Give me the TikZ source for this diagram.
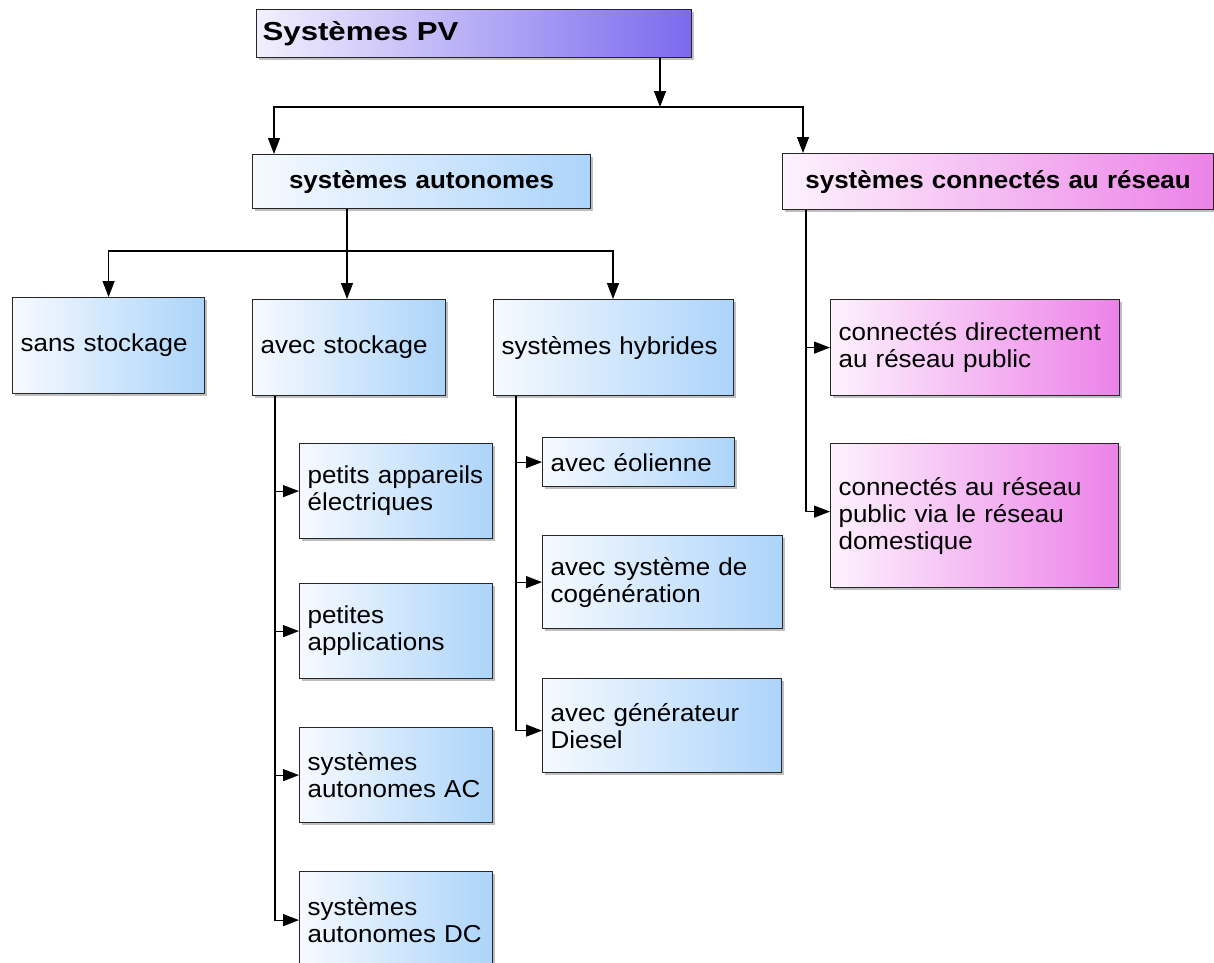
\documentclass[tikz,border=0pt]{standalone}
\usepackage{fontspec}
\setmainfont[FakeStretch=1.06]{Liberation Sans}
\newfontfamily\titlefont[FakeStretch=1.2]{Liberation Sans}
\usetikzlibrary{arrows.meta,shadows}
\definecolor{boxblue}{RGB}{172,212,250}
\definecolor{boxblueL}{RGB}{246,250,255}
\definecolor{boxpink}{RGB}{236,130,232}
\definecolor{boxpinkL}{RGB}{253,242,253}
\definecolor{titleblue}{RGB}{124,106,238}
\definecolor{titleblueL}{RGB}{242,240,253}
\tikzstyle{box} = [rectangle, draw=black!85, line width=1.2pt, anchor=north west, align=left, inner xsep=8pt, inner ysep=0pt, font=\fontsize{24.5}{27}\selectfont, drop shadow={shadow xshift=2pt, shadow yshift=-2pt, fill=black, opacity=0.25}]
\tikzstyle{bluebox} = [box, left color=boxblueL, right color=boxblue]
\tikzstyle{pinkbox} = [box, left color=boxpinkL, right color=boxpink]
\tikzstyle{head} = [align=center, font=\fontsize{24.5}{27}\selectfont\bfseries]
\tikzstyle{wire} = [line width=1.2pt]
\tikzstyle{arrow} = [line width=1.2pt, -{Triangle[length=16pt,width=12pt]}]
\tikzset{dim/.style 2 args={minimum width=#1pt, minimum height=#2pt, text width=#1pt-16pt}}
\begin{document}
\begin{tikzpicture}[x=1pt, y=-1pt]
\useasboundingbox (0,0) rectangle (1214,962);
% top levels
\node (title) [box, left color=titleblueL, right color=titleblue, inner xsep=6pt, minimum width=435pt, minimum height=48pt, text width=423pt, font=\fontsize{26}{30}\selectfont\titlefont\bfseries] at (256,9) {Systèmes PV};
\node (auton) [bluebox, head, dim={338}{54}] at (252,154) {systèmes autonomes};
\node (conn) [pinkbox, head, dim={431}{56}] at (782,153) {systèmes connectés au réseau};
% autonomes
\node (sans) [bluebox, dim={192}{96}] at (12,297) {sans stockage};
\node (avec) [bluebox, dim={193}{96}] at (252,299) {avec stockage};
\node (hyb) [bluebox, dim={240}{96}] at (493,299) {systèmes hybrides};
\node (pae) [bluebox, dim={193}{95}] at (299,443) {petits appareils\\électriques};
\node (pap) [bluebox, dim={193}{95}] at (299,583) {petites\\applications};
\node (sac) [bluebox, dim={193}{95}] at (299,727) {systèmes\\autonomes AC};
\node (sdc) [bluebox, dim={193}{97}] at (299,871) {systèmes\\autonomes DC};
\node (eol) [bluebox, dim={192}{49}, inner xsep=5pt] at (542,437) {avec éolienne};
\node (cog) [bluebox, dim={240}{93}] at (542,535) {avec système de\\cogénération};
\node (dsl) [bluebox, dim={239}{94}] at (542,678) {avec générateur\\Diesel};
% connectes
\node (dir) [pinkbox, dim={289}{96}] at (830,299) {connectés directement\\au réseau public};
\node (via) [pinkbox, dim={288}{144}] at (830,443) {connectés au réseau\\public via le réseau\\domestique};
% links
\coordinate (j0) at (660,107);
\draw [arrow] (title.south -| j0) -- (j0);
\draw [arrow] (j0) -| ([xshift=22pt]auton.north west);
\draw [arrow] (j0) -| ([xshift=21pt]conn.north west);
\coordinate (j1) at (347,251);
\draw [wire] (auton.south -| j1) -- (j1);
\draw [arrow] (j1) -| (sans.north);
\draw [arrow] (j1) -- (j1 |- avec.north);
\draw [arrow] (j1) -| ([xshift=120pt]hyb.north west);
\coordinate (t1) at ([xshift=23pt]avec.south west);
\draw [arrow] (t1) |- (pae.west);
\draw [arrow] (t1) |- (pap.west);
\draw [arrow] (t1) |- (sac.west);
\draw [arrow] (t1) |- (sdc.west);
\coordinate (t2) at ([xshift=23pt]hyb.south west);
\draw [arrow] (t2) |- (eol.west);
\draw [arrow] (t2) |- (cog.west);
\draw [arrow] (t2) |- ([yshift=-5pt]dsl.west);
\coordinate (t3) at ([xshift=24pt]conn.south west);
\draw [arrow] (t3) |- (dir.west);
\draw [arrow] (t3) |- ([yshift=4pt]via.west);
\end{tikzpicture}
\end{document}
